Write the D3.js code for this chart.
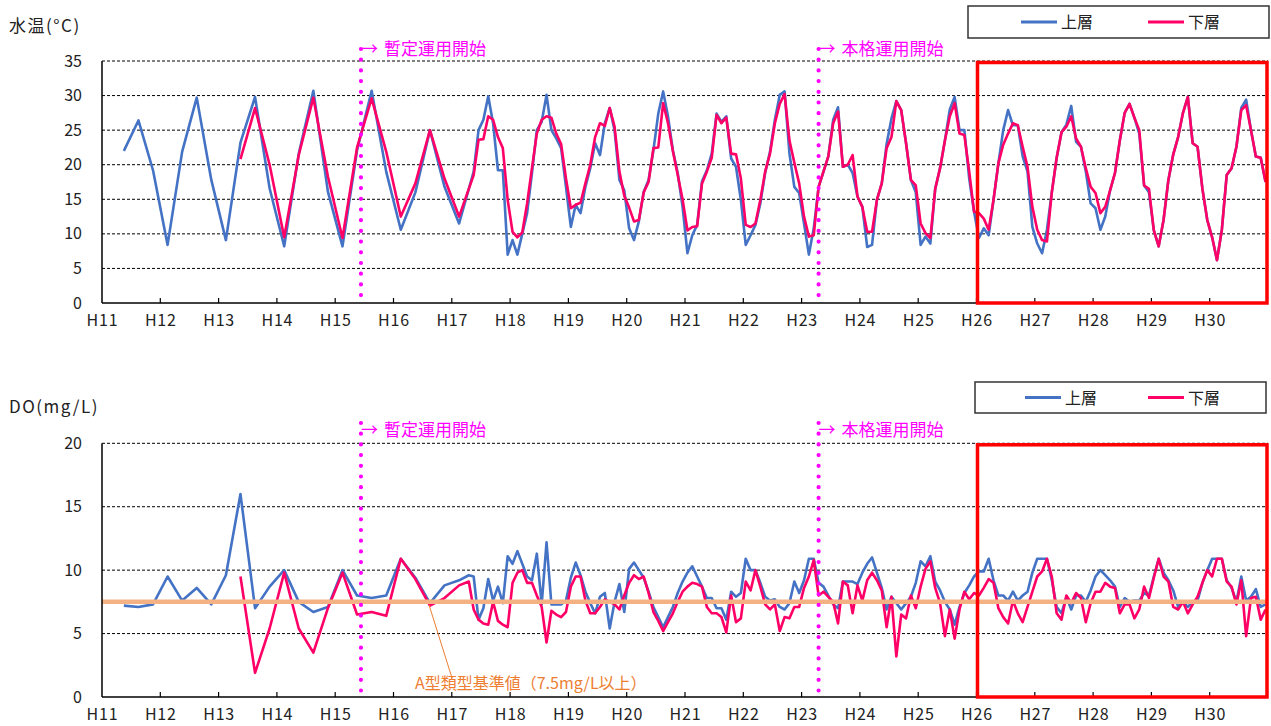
<!DOCTYPE html>
<html><head><meta charset="utf-8">
<script src="https://cdn.jsdelivr.net/npm/d3@7/dist/d3.min.js"></script>
<style>
body{margin:0;background:#fff}
svg{display:block}
text{font-family:"Noto Sans CJK JP","Noto Sans",sans-serif;fill:#222}
</style>
</head><body>
<svg id="c" width="1271" height="726"></svg>
<script>
// ---------- DATA ----------
const yearLabels = ["H11","H12","H13","H14","H15","H16","H17","H18","H19","H20","H21","H22","H23","H24","H25","H26","H27","H28","H29","H30"];
// sample month index (months since Jan H11): quarterly, then monthly from Apr H17
const quarterMonths = [4,7,10,13,16,19,22,25,28,31,34,37,40,43,46,49,52,55,58,61,64,67,70,73];
const monthlyMonths = d3.range(75, 240);
const seriesNames = ["上層","下層"];
const events = [{label:"暫定運用開始", m:53.3},{label:"本格運用開始", m:147.5}];
const doStandard = 7.5;
const doStandardLabel = "A型類型基準値（7.5mg/L以上）";

// Water temperature (℃)
const tempUpperQ = [22.0,26.4,19.2,8.4,21.9,29.7,17.8,9.1,23.2,29.8,16.6,8.2,21.6,30.7,16.1,8.2,22.1,30.7,19.0,10.6,16.0,25.0,16.8,11.5];
const tempLowerQ = [null,null,null,null,null,null,null,null,20.8,28.2,20.0,9.5,21.4,29.7,18.3,9.4,22.5,29.6,21.9,12.5,17.3,25.0,18.0,12.5];
const tempUpperM = [
 16.5,19.0,25.0,26.5,29.9,26.0,19.2,19.2,7.0,
 9.1,7.0,10.0,13.0,18.8,25.0,26.2,30.1,25.0,23.8,22.4,16.8,
 11.0,14.2,13.0,16.8,19.5,23.1,21.4,26.0,28.2,25.0,17.8,16.3,
 10.8,9.1,11.8,16.1,17.8,22.1,27.4,30.6,27.0,22.1,18.8,13.9,
 7.2,9.8,11.3,17.6,19.2,21.6,27.4,26.2,27.0,20.9,19.7,14.9,
 8.4,9.8,11.3,14.4,18.8,21.9,26.5,30.1,30.6,21.6,16.8,15.9,
 11.5,7.0,10.8,16.8,19.0,21.2,26.5,28.3,19.7,20.0,18.8,15.4,
 13.9,8.1,8.4,14.9,17.3,23.0,26.7,29.2,27.9,23.1,17.8,16.0,
 8.4,9.6,8.6,16.5,19.5,23.5,28.0,29.8,25.0,25.0,18.0,13.2,
 9.4,10.8,9.8,14.9,20.2,25.0,27.9,25.7,25.7,21.2,19.0,11.0,
 8.6,7.2,10.6,16.0,21.0,24.7,25.8,28.5,23.3,22.6,19.0,14.4,
 13.7,10.6,12.5,16.3,18.8,23.5,27.5,28.8,26.8,24.5,17.0,16.0,
 10.5,8.2,12.0,17.8,21.5,24.0,27.5,29.8,23.1,22.6,16.5,12.0,
 9.5,6.2,10.6,18.5,19.5,22.6,28.2,29.4,25.0,21.2,21.0,17.5];
const tempLowerM = [
 16.5,18.5,23.6,23.7,27.0,26.5,24.0,22.4,14.9,
 10.3,9.5,10.2,14.4,19.5,24.5,26.5,27.0,26.8,24.5,23.0,18.0,
 13.7,14.2,14.5,17.3,20.0,24.0,26.0,25.6,28.2,25.5,19.0,15.5,
 13.8,11.8,12.0,16.0,17.5,22.4,22.5,28.9,26.0,22.0,18.5,15.0,
 10.5,11.0,11.1,17.3,19.0,21.0,27.2,26.0,26.8,21.6,21.5,18.0,
 11.3,11.0,11.5,14.9,19.0,21.6,26.0,28.8,30.2,23.5,20.3,17.3,
 12.5,9.6,9.8,16.8,19.0,21.2,26.0,27.7,19.7,20.0,21.4,15.4,
 13.9,10.3,10.3,14.9,17.3,22.4,24.0,29.2,27.9,23.1,17.8,17.0,
 11.5,10.1,9.4,16.5,19.5,23.5,27.0,28.9,24.5,24.3,19.0,13.2,
 13.0,12.2,10.6,14.9,20.2,22.9,24.5,26.0,25.7,22.6,19.7,13.9,
 10.6,9.1,8.9,16.0,21.0,24.7,25.5,27.0,23.8,22.6,19.5,16.8,
 15.9,13.0,13.9,16.3,18.8,23.5,27.5,28.8,26.8,25.0,17.0,16.5,
 10.5,8.2,12.0,17.8,21.5,24.0,27.5,29.8,23.1,22.6,16.5,12.0,
 9.5,6.2,10.6,18.5,19.5,22.6,27.9,28.6,25.0,21.2,21.0,17.5];

// Dissolved oxygen (mg/L)
const doUpperQ = [7.2,7.1,7.3,9.5,7.6,8.6,7.3,9.6,16.0,7.0,8.7,10.0,7.5,6.7,7.1,10.0,8.0,7.8,8.0,10.9,9.4,7.4,8.8,9.2];
const doLowerQ = [null,null,null,null,null,null,null,null,9.5,1.9,5.4,9.8,5.4,3.5,7.0,9.8,6.5,6.7,6.4,10.9,9.3,7.2,7.8,8.8];
const doUpperM = [
 9.6,9.5,6.1,7.0,9.3,7.6,8.7,7.4,11.1,
 10.5,11.5,10.5,9.5,9.2,11.3,7.3,12.2,7.3,7.3,7.3,7.6,
 9.4,10.6,9.6,8.3,7.4,6.6,7.9,8.2,5.4,7.5,8.9,6.7,
 10.1,10.6,10.0,9.4,8.3,7.1,6.3,5.5,6.3,7.1,8.2,9.1,
 9.8,10.3,9.5,8.7,7.8,7.8,7.0,7.0,6.1,8.3,7.9,8.2,
 10.9,10.0,10.0,9.0,7.9,7.6,7.7,7.1,6.9,7.4,9.1,8.2,
 9.2,10.9,10.9,9.0,8.7,8.0,7.3,7.0,9.1,9.1,9.1,8.9,
 9.8,10.5,11.0,9.8,8.6,6.9,7.9,7.4,6.9,7.4,7.9,9.0,
 10.7,10.3,11.1,9.1,8.4,7.5,6.9,5.7,7.1,8.2,8.8,9.5,
 9.9,9.9,10.9,9.2,8.0,8.0,7.6,8.3,7.6,8.0,8.3,9.8,
 10.9,10.9,10.9,9.2,7.1,6.6,7.9,6.9,8.0,8.0,7.5,8.4,
 9.5,10.0,9.6,9.2,8.7,7.1,7.8,7.5,7.6,7.6,8.2,8.0,
 9.5,10.9,9.8,9.2,8.4,7.1,7.5,7.1,7.5,7.6,9.0,10.0,
 10.9,10.9,10.9,9.2,8.6,7.5,9.5,7.6,7.9,8.5,7.1,7.3];
const doLowerM = [
 9.1,6.9,6.1,5.8,5.7,7.5,6.0,5.7,5.5,
 9.0,9.8,10.0,9.0,9.0,8.0,7.1,4.3,6.8,6.5,6.3,6.7,
 8.7,9.5,9.5,7.6,6.6,6.6,7.1,7.7,7.5,7.3,6.9,8.0,
 9.0,9.6,9.3,9.5,8.2,6.7,6.0,5.2,5.9,6.6,7.5,8.3,
 8.7,9.0,8.9,8.7,7.1,6.6,6.6,6.3,5.1,8.0,5.9,6.2,
 9.1,8.4,10.0,8.7,7.3,6.9,7.3,5.2,6.3,6.2,7.1,7.1,
 8.6,9.5,10.8,8.0,8.3,7.9,7.5,5.8,9.1,8.8,6.6,8.8,
 7.6,9.2,9.8,9.2,8.4,5.5,7.9,3.2,6.5,6.2,8.0,7.0,
 8.7,10.1,10.7,8.6,7.4,4.8,6.9,4.6,6.9,8.3,7.7,8.2,
 8.0,8.6,9.3,9.0,7.0,6.3,5.8,7.6,6.6,5.9,7.1,8.3,
 9.5,9.9,10.9,9.5,6.6,6.1,8.0,7.4,8.2,7.8,5.9,7.4,
 8.3,8.3,9.0,8.7,8.6,6.6,7.3,7.3,6.2,6.9,8.7,7.8,
 9.4,10.9,9.5,9.1,7.1,6.9,7.5,6.6,7.3,7.9,9.0,10.0,
 9.5,10.9,10.9,9.1,8.7,7.3,9.2,4.8,7.8,7.9,6.1,6.9];

// ---------- CHART ----------
const svg = d3.select("#c");
const colors = ["#4472C4", "#FF0066"];
const months = quarterMonths.concat(monthlyMonths);
const x = d3.scaleLinear().domain([0, 240]).range([102, 1268]);

function toPoints(q, m) {
  const vals = q.concat(m);
  return months.map((mm, i) => ({m: mm, v: vals[i]}));
}

function panel(cfg) {
  const y = d3.scaleLinear().domain([0, cfg.max]).range([cfg.bottom, cfg.top]);
  const g = svg.append("g");

  // title
  g.append("text").attr("x", 9).attr("y", cfg.titleY).attr("font-size", cfg.titleSize)
    .attr("letter-spacing", cfg.titleSpacing).text(cfg.title);

  // grid
  g.selectAll(".grid").data(cfg.ticks.filter(t => t > 0)).enter().append("line")
    .attr("x1", x(0)).attr("x2", x(240)).attr("y1", d => y(d)).attr("y2", d => y(d))
    .attr("stroke", "#000").attr("stroke-width", 1).attr("stroke-dasharray", "3,2");

  // y axis labels
  const ya = d3.axisLeft(y).tickValues(cfg.ticks).tickSize(0).tickPadding(20);
  const yg = g.append("g").attr("transform", `translate(${x(0)},0)`).call(ya);
  yg.select(".domain").remove();
  yg.selectAll("text").attr("font-size", 16).attr("fill", "#222")
    .style("font-family", '"Noto Sans CJK JP",sans-serif');

  // x axis labels
  const xa = d3.axisBottom(x).tickValues(d3.range(0, 229, 12)).tickSize(0).tickPadding(12)
    .tickFormat((d, i) => yearLabels[i]);
  const xg = g.append("g").attr("transform", `translate(0,${cfg.bottom})`).call(xa);
  xg.select(".domain").remove();
  xg.selectAll("text").attr("font-size", 16).attr("fill", "#222").attr("letter-spacing", 0.8)
    .style("font-family", '"Noto Sans CJK JP",sans-serif');

  // inner ticks
  g.selectAll(".tk").data(d3.range(12, 229, 12)).enter().append("line")
    .attr("x1", d => x(d)).attr("x2", d => x(d)).attr("y1", cfg.bottom).attr("y2", cfg.bottom - 5)
    .attr("stroke", "#000").attr("stroke-width", 1.2);

  // series
  const line = d3.line().defined(d => d.v != null).x(d => x(d.m + 0.5)).y(d => y(d.v));
  cfg.series.forEach((s, i) => {
    g.append("path").datum(s).attr("d", line).attr("fill", "none")
      .attr("stroke", colors[i]).attr("stroke-width", 2.6).attr("stroke-linejoin", "round");
  });

  // standard line
  if (cfg.standard != null) {
    g.append("line").attr("x1", x(0)).attr("x2", x(240))
      .attr("y1", y(cfg.standard)).attr("y2", y(cfg.standard))
      .attr("stroke", "#F4B183").attr("stroke-width", 4.5);
    g.append("line").attr("x1", 429).attr("y1", y(cfg.standard) + 3)
      .attr("x2", 452).attr("y2", 678).attr("stroke", "#ED7D31").attr("stroke-width", 1);
    g.append("text").attr("x", 415).attr("y", 689).attr("font-size", 16)
      .style("fill", "#ED7D31").text(doStandardLabel);
  }

  // axes
  g.append("line").attr("x1", x(0)).attr("x2", x(0)).attr("y1", cfg.top).attr("y2", cfg.bottom)
    .attr("stroke", "#000").attr("stroke-width", 1.5);
  g.append("line").attr("x1", x(0)).attr("x2", x(240)).attr("y1", cfg.bottom).attr("y2", cfg.bottom)
    .attr("stroke", "#000").attr("stroke-width", 1.5);

  // highlight box (H26-H30)
  g.append("rect").attr("x", x(180) + 1).attr("y", y(cfg.max) + 1.5)
    .attr("width", x(240) - x(180) - 2).attr("height", y(0) - y(cfg.max) - 1.5)
    .attr("fill", "none").attr("stroke", "#FF0000").attr("stroke-width", 3.5);

  // events
  events.forEach(ev => {
    const ex = x(ev.m);
    g.append("line").attr("x1", ex).attr("x2", ex).attr("y1", cfg.evTop).attr("y2", cfg.bottom - 5)
      .attr("stroke", "#FF00FF").attr("stroke-width", 4.2).attr("stroke-linecap", "round")
      .attr("stroke-dasharray", "0,10.7");
    g.append("text").attr("x", ex).attr("y", cfg.evY).attr("font-size", 17)
      .style("fill", "#FF00FF").text("→");
    g.append("text").attr("x", ex + 23).attr("y", cfg.evY).attr("font-size", 17)
      .style("fill", "#FF00FF").text(ev.label);
  });

  // legend
  const L = cfg.legend;
  g.append("rect").attr("x", L.x).attr("y", L.y).attr("width", L.w).attr("height", L.h)
    .attr("fill", "#fff").attr("stroke", "#333").attr("stroke-width", 1.5);
  seriesNames.forEach((n, i) => {
    const lx = L.items[i];
    g.append("line").attr("x1", lx).attr("x2", lx + 36).attr("y1", L.y + L.h / 2).attr("y2", L.y + L.h / 2)
      .attr("stroke", colors[i]).attr("stroke-width", 3);
    g.append("text").attr("x", lx + 40).attr("y", L.y + L.h / 2 + 6).attr("font-size", 16).text(n);
  });
}

panel({
  title: "水温(°C)", titleY: 32, titleSize: 17, titleSpacing: 1.5, max: 35, top: 61, bottom: 303,
  ticks: [0,5,10,15,20,25,30,35],
  series: [toPoints(tempUpperQ, tempUpperM), toPoints(tempLowerQ, tempLowerM)],
  evTop: 49, evY: 55,
  legend: {x: 968, y: 6, w: 301, h: 32, items: [1021, 1148]}
});
panel({
  title: "DO(mg/L)", titleY: 413, titleSize: 17, titleSpacing: 1.5, max: 20, top: 443.3, bottom: 697,
  ticks: [0,5,10,15,20],
  series: [toPoints(doUpperQ, doUpperM), toPoints(doLowerQ, doLowerM)],
  standard: doStandard,
  evTop: 423, evY: 436,
  legend: {x: 975, y: 382, w: 291, h: 31, items: [1025, 1148]}
});
</script>
</body></html>
